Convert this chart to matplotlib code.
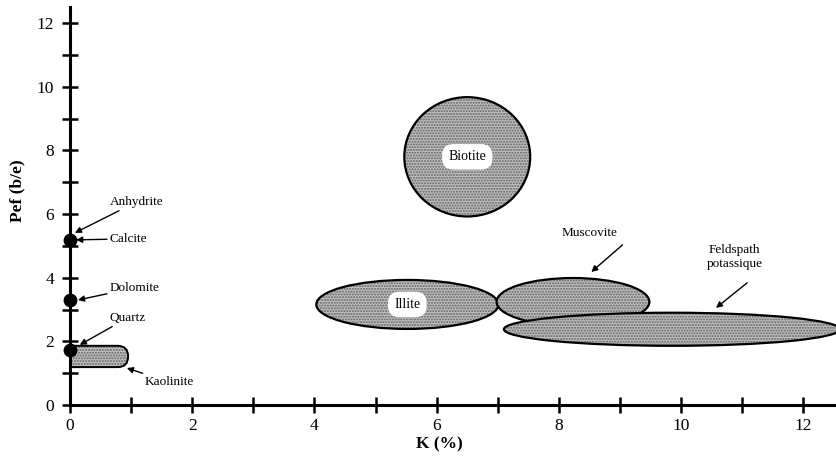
import matplotlib.pyplot as plt
from matplotlib.patches import Ellipse, FancyBboxPatch

plt.rcParams["font.family"] = ["Liberation Serif", "DejaVu Serif"]

# mineral zones: center K, center Pef, width, height
zone_names = ["Biotite", "Illite", "Muscovite", "Feldspath potassique"]
zone_k = [6.5, 5.52, 8.23, 9.85]
zone_pef = [7.8, 3.16, 3.24, 2.38]
zone_w = [2.06, 2.98, 2.5, 5.5]
zone_h = [3.75, 1.54, 1.5, 1.04]

# kaolinite band (K range, Pef range)
kaol_k = [0.0, 0.95]
kaol_pef = [1.19, 1.86]

# pure minerals at K = 0
point_names = ["Anhydrite/Calcite", "Dolomite", "Quartz"]
point_k = [0, 0, 0]
point_pef = [5.18, 3.3, 1.73]

fig = plt.figure(figsize=(8.37, 4.69), dpi=100)
ax = fig.add_axes([70 / 837, 0.1365, 1 - 70 / 837, 0.848])
ax.set_xlim(0, 12.55)
ax.set_ylim(0, 12.5)

fill = "#c0c0c0"
# later zones sit on top of earlier ones (feldspath hides muscovite's bottom)
for i, (k, p, w, h) in enumerate(zip(zone_k, zone_pef, zone_w, zone_h)):
    z = 2 + 0.1 * i
    ax.add_patch(Ellipse((k, p), w, h, facecolor=fill, edgecolor="#606060",
                         hatch="......", lw=0, zorder=z))
    ax.add_patch(Ellipse((k, p), w, h, facecolor="none", edgecolor="black",
                         lw=1.6, zorder=z + 0.05))

kbox = dict(boxstyle="round,pad=0,rounding_size=0.17", mutation_aspect=1.9)
ax.add_patch(FancyBboxPatch((kaol_k[0] - 0.4, kaol_pef[0]),
                            kaol_k[1] + 0.4, kaol_pef[1] - kaol_pef[0],
                            facecolor=fill, edgecolor="#606060", hatch="......",
                            lw=0, zorder=2, **kbox))
ax.add_patch(FancyBboxPatch((kaol_k[0] - 0.4, kaol_pef[0]),
                            kaol_k[1] + 0.4, kaol_pef[1] - kaol_pef[0],
                            facecolor="none", edgecolor="black", lw=1.4,
                            zorder=3, **kbox))

ax.scatter(point_k, point_pef, s=80, color="black", zorder=6, clip_on=False)

# labels inside zones
box = dict(boxstyle="round,pad=0.45,rounding_size=0.8", fc="white", ec="none")
ax.text(zone_k[0], zone_pef[0], "Biotite", ha="center", va="center",
        fontsize=10, bbox=box, zorder=5)
ax.text(zone_k[1], zone_pef[1], "Illite", ha="center", va="center",
        fontsize=10, bbox=box, zorder=5)

arrow = dict(arrowstyle="-|>", color="black", lw=1.0, mutation_scale=9,
             shrinkA=0, shrinkB=0)
ann = dict(fontsize=9.5, arrowprops=arrow, annotation_clip=False, zorder=6)
ax.annotate("Anhydrite", xy=(0.08, 5.41), xytext=(0.65, 6.38), ha="left",
            va="center", **ann)
ax.annotate("Calcite", xy=(0.1, 5.19), xytext=(0.65, 5.22), ha="left",
            va="center", **ann)
ax.annotate("Dolomite", xy=(0.13, 3.3), xytext=(0.65, 3.68), ha="left",
            va="center", **ann)
ax.annotate("Quartz", xy=(0.16, 1.89), xytext=(0.65, 2.74), ha="left",
            va="center", **ann)
ax.annotate("Kaolinite", xy=(0.93, 1.16), xytext=(1.22, 0.72), ha="left",
            va="center", **ann)

ax.text(8.5, 5.41, "Muscovite", ha="center", va="center", fontsize=9.5)
ax.annotate("", xy=(8.53, 4.18), xytext=(9.04, 5.03), **ann)
ax.text(10.87, 4.65, "Feldspath\npotassique", ha="center", va="center",
        fontsize=9.5, linespacing=1.15)
ax.annotate("", xy=(10.57, 3.05), xytext=(11.08, 3.84), **ann)

# axes
for s in ["top", "right"]:
    ax.spines[s].set_visible(False)
for s in ["left", "bottom"]:
    ax.spines[s].set_linewidth(2.2)
    ax.spines[s].set_zorder(4)

ticks = list(range(0, 13))
labels = [str(t) if t % 2 == 0 else "" for t in ticks]
ax.set_xticks(ticks, labels)
ax.set_yticks(ticks, labels)
ax.tick_params(direction="inout", length=11, width=1.8, labelsize=12.5,
               pad=6)
ax.tick_params(axis="x", pad=4)

ax.set_xlabel("K (%)", fontsize=12.5, fontweight="bold")
ax.set_ylabel("Pef (b/e)", fontsize=12.5, fontweight="bold")
ax.xaxis.set_label_coords(0.482, -0.078)
ax.yaxis.set_label_coords(-0.058, 0.54)

fig.savefig("out.png", dpi=100)
